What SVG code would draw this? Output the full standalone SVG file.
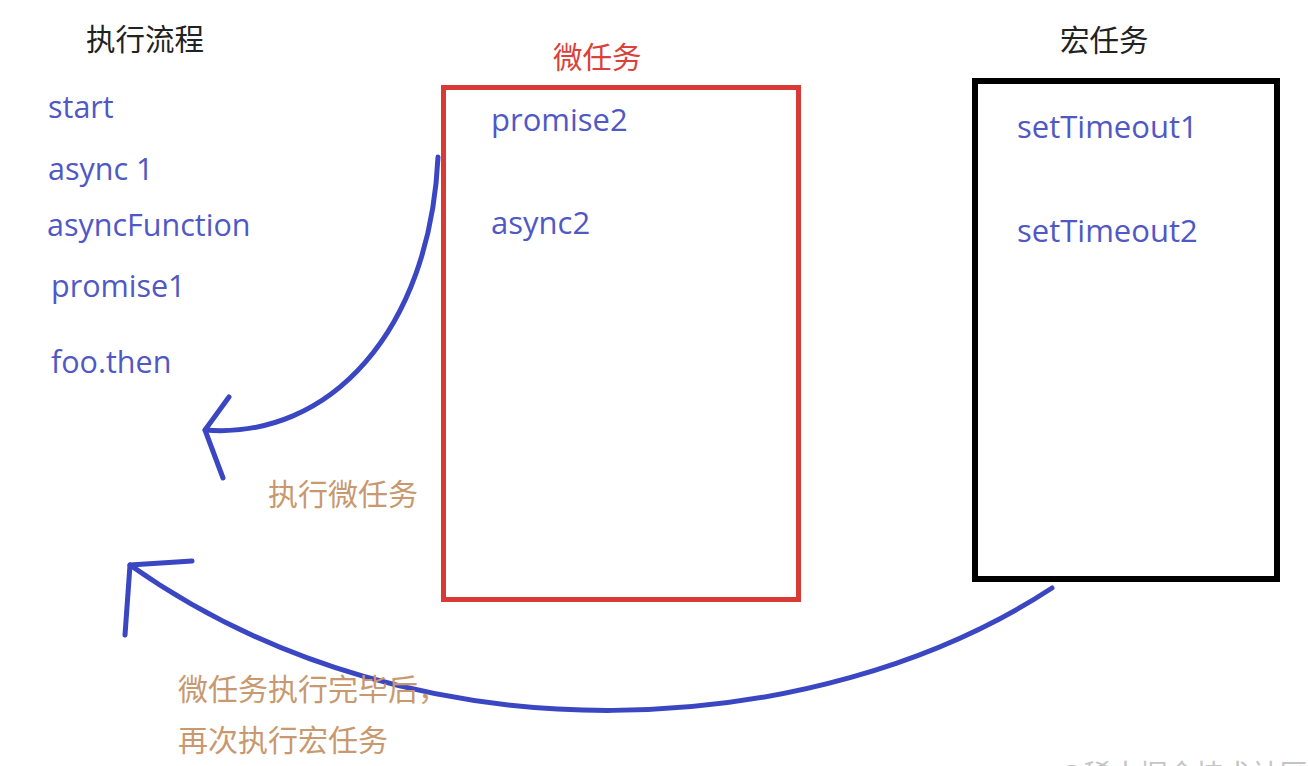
<svg xmlns="http://www.w3.org/2000/svg" width="1308" height="766" viewBox="0 0 1308 766">
  <style>
    .title { font-family: "Noto Sans CJK SC", "Noto Sans", sans-serif; font-size: 29.5px; fill: #222222; }
    .red-title { font-family: "Noto Sans CJK SC", "Noto Sans", sans-serif; font-size: 29.5px; fill: #d9413a; }
    .item { font-family: "Open Sans", "Noto Sans", sans-serif; font-size: 30.5px; fill: #5058c6; }
    .box-item { font-family: "Open Sans", "Noto Sans", sans-serif; font-size: 31px; fill: #5058c6; }
    .note { font-family: "Noto Sans CJK SC", "Noto Sans", sans-serif; font-size: 30px; fill: #c8996f; }
    .wm { font-family: "Noto Sans CJK SC", "Noto Sans", sans-serif; font-size: 28px; fill: #c4c4c4; }
    .conn { fill: none; stroke: #3b47c2; stroke-width: 5; stroke-linecap: round; stroke-linejoin: round; }
  </style>

  <rect x="0" y="0" width="1308" height="766" fill="#ffffff"/>

  <g id="flow">
    <text class="title" x="86" y="50">执行流程</text>
    <text class="item" x="48" y="118">start</text>
    <text class="item" x="48" y="180">async 1</text>
    <text class="item" x="47" y="236">asyncFunction</text>
    <text class="item" x="51" y="297">promise1</text>
    <text class="item" x="51" y="373">foo.then</text>
  </g>

  <g id="microtask">
    <text class="red-title" x="553" y="68">微任务</text>
    <rect x="443.5" y="87.5" width="355" height="512" fill="none" stroke="#d93a36" stroke-width="5"/>
    <text class="box-item" x="491" y="131">promise2</text>
    <text class="box-item" x="491" y="234">async2</text>
  </g>

  <g id="macrotask">
    <text class="title" x="1060" y="51">宏任务</text>
    <rect x="975" y="81" width="302" height="498" fill="none" stroke="#000000" stroke-width="6"/>
    <text class="box-item" x="1017" y="138">setTimeout1</text>
    <text class="box-item" x="1017" y="242">setTimeout2</text>
  </g>

  <g id="connectors">
    <path class="conn" d="M438,157 C430,330 330,440 205,430"/>
    <path class="conn" d="M229,397 L205,430 L223,478"/>
    <path class="conn" d="M1052,588 C820,740 420,770 130,565"/>
    <path class="conn" d="M192,561 L130,565 L125,635"/>
  </g>

  <g id="labels">
    <text class="note" x="268" y="505">执行微任务</text>
    <text class="note" x="178" y="700">微任务执行完毕后，</text>
    <text class="note" x="178" y="751">再次执行宏任务</text>
  </g>

  <g id="watermark">
    <text class="wm" x="1057" y="785">@稀土掘金技术社区</text>
  </g>
</svg>
